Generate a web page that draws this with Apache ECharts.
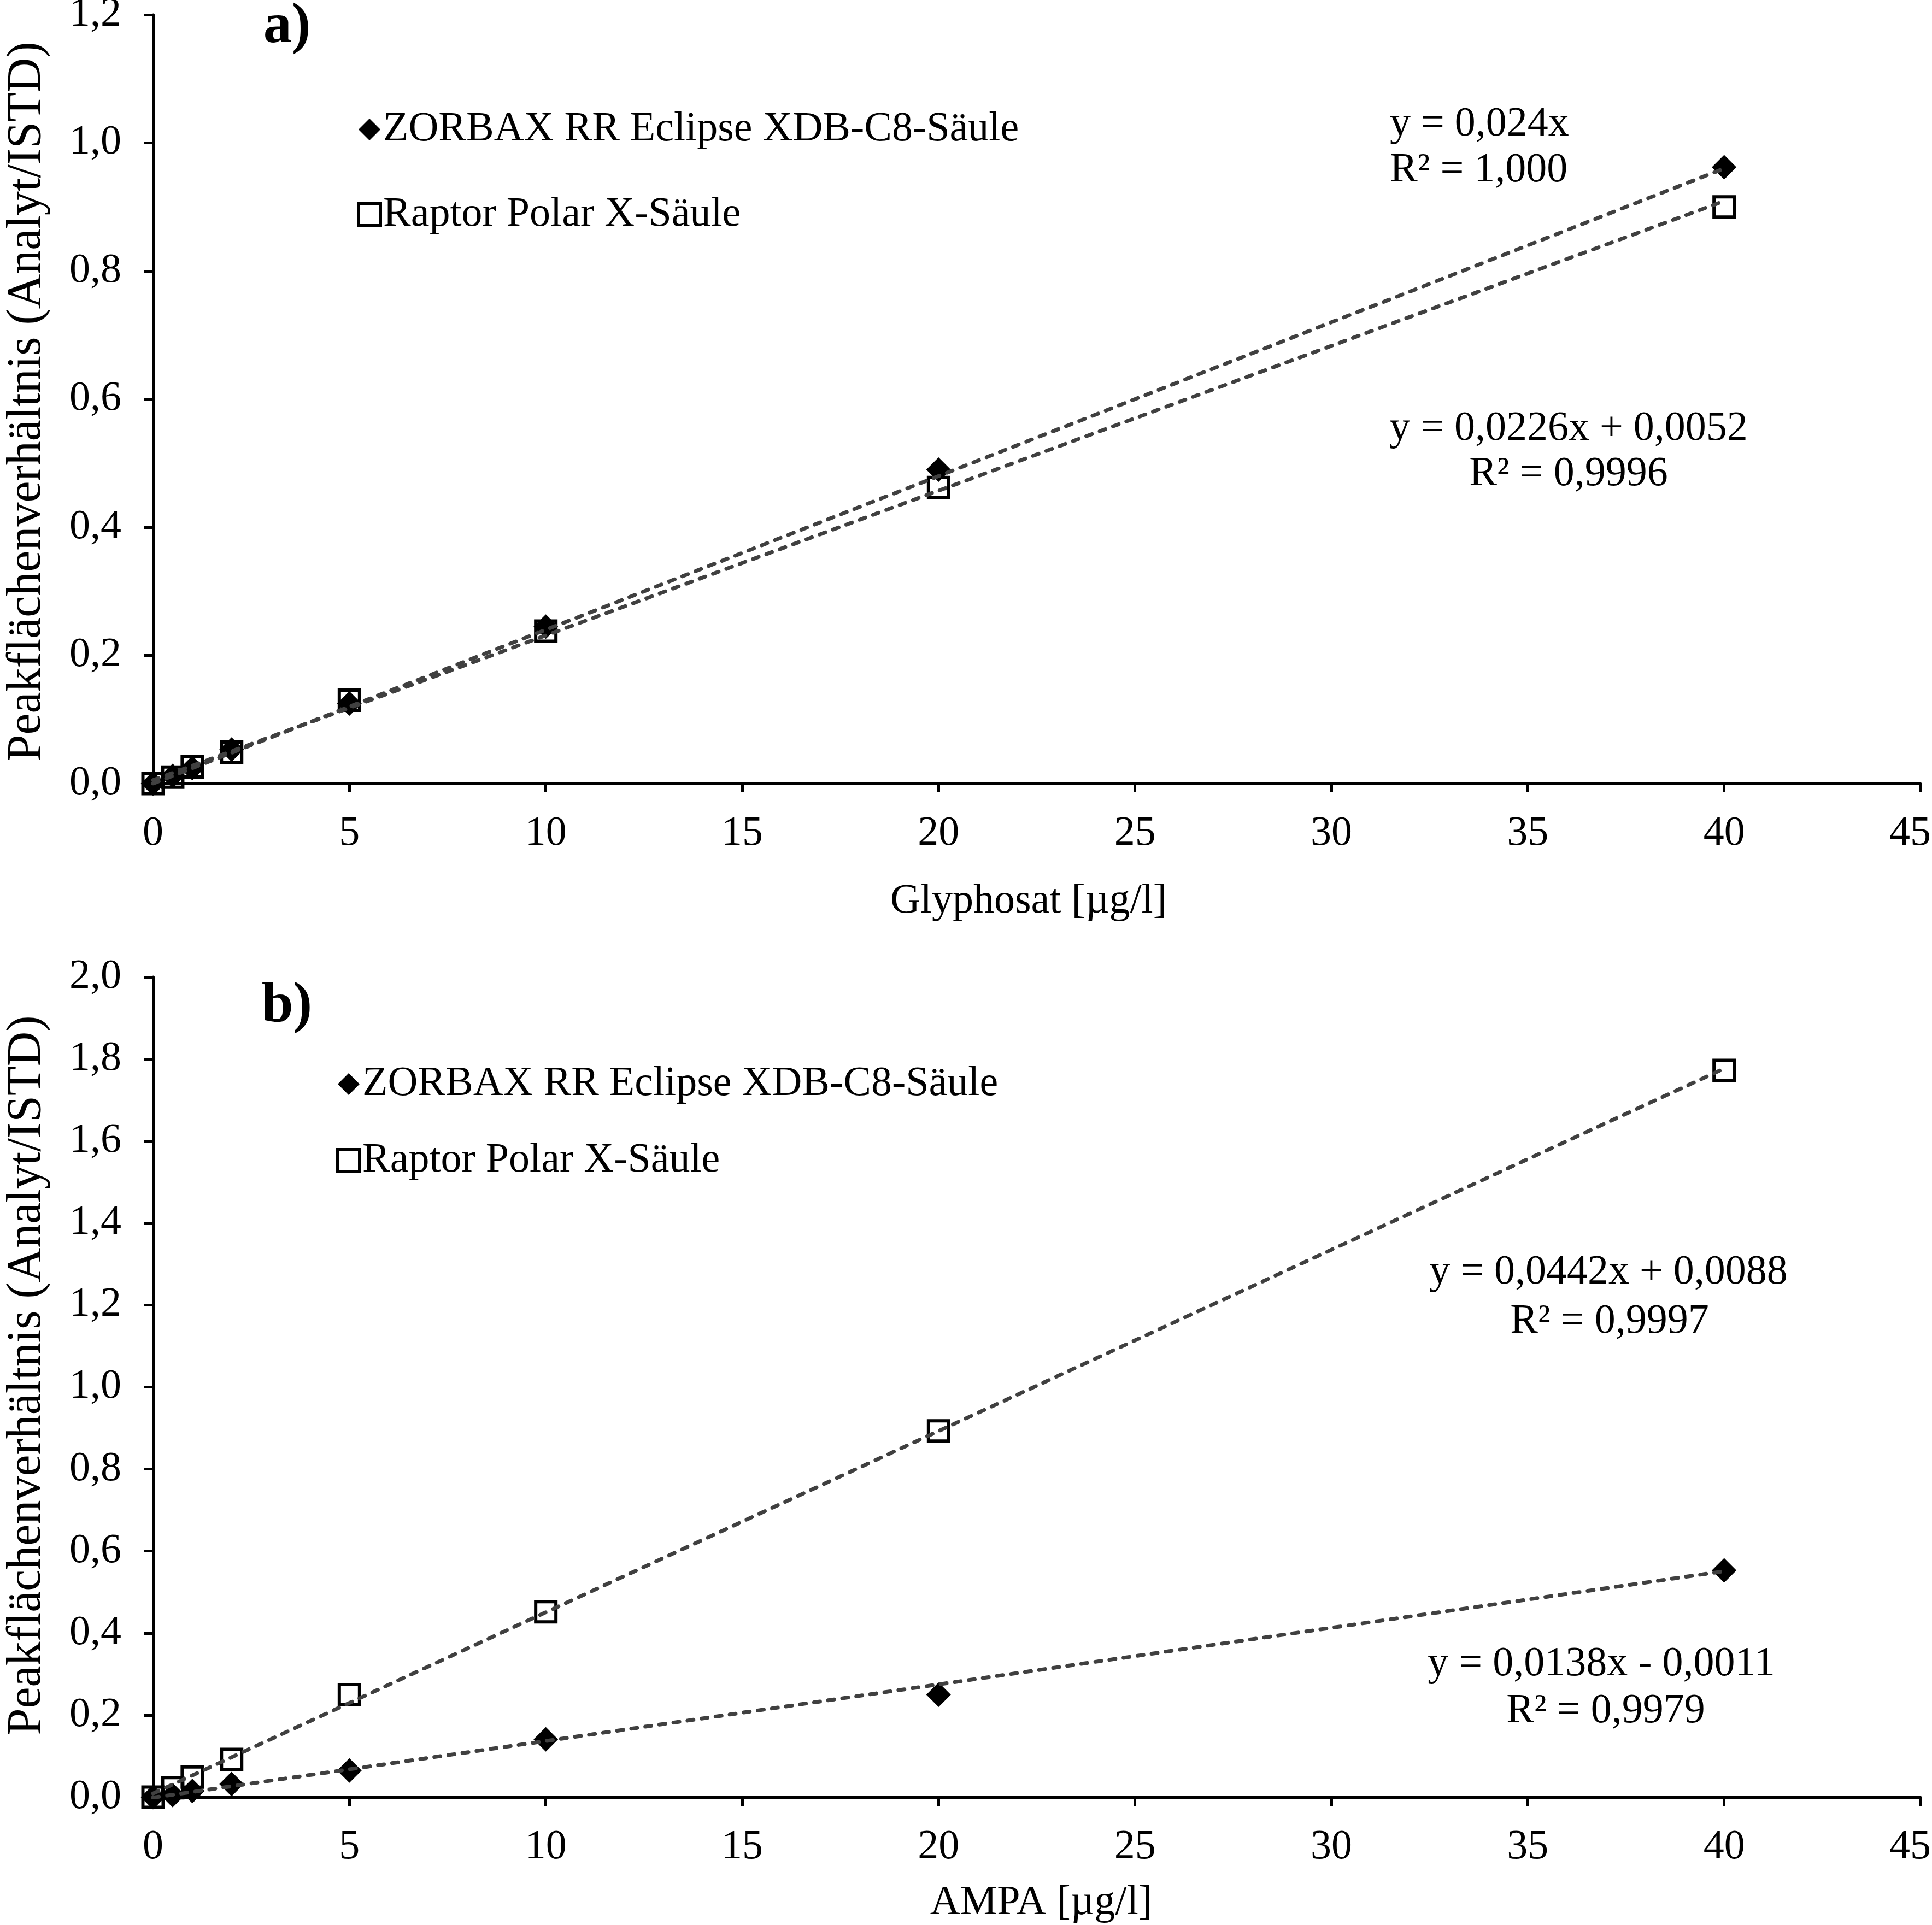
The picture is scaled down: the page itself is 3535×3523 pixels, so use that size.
<!DOCTYPE html>
<html>
<head>
<meta charset="utf-8">
<script src="https://cdn.jsdelivr.net/npm/echarts@6/dist/echarts.min.js"></script>
<style>
html,body{margin:0;padding:0;background:#fff;}
#chart{width:3535px;height:3523px;}
</style>
</head>
<body>
<div id="chart"></div>
<script>
// ---- data ----
const NAME_Z = 'ZORBAX RR Eclipse XDB-C8-Säule';
const NAME_R = 'Raptor Polar X-Säule';

const concentrations = [0, 0.5, 1, 2, 5, 10, 20, 40];

// a) Glyphosat
const glyZorbax = [0, 0.012, 0.024, 0.053, 0.125, 0.245, 0.490, 0.962];
const glyRaptor = [0, 0.010, 0.026, 0.049, 0.130, 0.238, 0.462, 0.900];
// b) AMPA
const ampaZorbax = [0, 0.005, 0.015, 0.032, 0.065, 0.141, 0.250, 0.553];
const ampaRaptor = [0, 0.023, 0.049, 0.092, 0.250, 0.452, 0.893, 1.772];

// trendline end points (from the printed regression equations)
const trendGlyZorbax = [[0, 0], [40, 0.960]];
const trendGlyRaptor = [[0, 0.0052], [40, 0.9092]];
const trendAmpaRaptor = [[0, 0.0088], [40, 1.7768]];
const trendAmpaZorbax = [[0, -0.0011], [40, 0.5509]];

const xTicksMax = 45, xTickStep = 5;
const yMaxA = 1.2, yMaxB = 2.0, yTickStep = 0.2;

const eqTexts = {
  aZ1: 'y = 0,024x', aZ2: 'R² = 1,000',
  aR1: 'y = 0,0226x + 0,0052', aR2: 'R² = 0,9996',
  bR1: 'y = 0,0442x + 0,0088', bR2: 'R² = 0,9997',
  bZ1: 'y = 0,0138x - 0,0011', bZ2: 'R² = 0,9979'
};
const panelLabels = ['a)', 'b)'];
const xTitles = ['Glyphosat [µg/l]', 'AMPA [µg/l]'];
const yTitle = 'Peakflächenverhältnis (Analyt/ISTD)';

// ---- chart ----
const FONT = '"Liberation Serif", "Times New Roman", serif';
const FS = 76;
const pair = (xs, ys) => xs.map((x, i) => [x, ys[i]]);

function xAxisCfg(gi) {
  return {
    gridIndex: gi, type: 'value', min: 0, max: xTicksMax, interval: xTickStep,
    axisLine: { show: true, onZero: false, lineStyle: { color: '#000', width: 5 } },
    axisTick: { show: true, inside: false, length: 16, lineStyle: { color: '#000', width: 5 } },
    axisLabel: { color: '#000', fontFamily: FONT, fontSize: FS, margin: 54,
      formatter: v => (v === xTicksMax ? '{last|' + v + '}' : String(v)),
      rich: { last: { fontFamily: FONT, fontSize: FS, color: '#000', padding: [0, 38, 0, 0] } } },
    splitLine: { show: false }
  };
}
function yAxisCfg(gi, max) {
  return {
    gridIndex: gi, type: 'value', min: 0, max: max, interval: yTickStep,
    axisLine: { show: true, onZero: false, lineStyle: { color: '#000', width: 5 } },
    axisTick: { show: true, inside: false, length: 16, lineStyle: { color: '#000', width: 5 } },
    axisLabel: { color: '#000', fontFamily: FONT, fontSize: FS, margin: 58,
      formatter: v => v.toFixed(1).replace('.', ',') },
    splitLine: { show: false }
  };
}
const diamondStyle = { color: '#000', opacity: 1 };
const squareStyle = { color: 'rgba(0,0,0,0)', borderColor: '#000', borderWidth: 6, opacity: 1 };

function scatter(name, xi, data, isDiamond) {
  return {
    name: name, type: 'scatter', xAxisIndex: xi, yAxisIndex: xi,
    data: data, symbol: isDiamond ? 'diamond' : 'rect',
    symbolSize: isDiamond ? 45 : 37,
    itemStyle: isDiamond ? diamondStyle : squareStyle,
    silent: true
  };
}
function trend(name, xi, data) {
  return {
    name: name, type: 'line', xAxisIndex: xi, yAxisIndex: xi, data: data,
    symbol: 'none', silent: true, clip: true,
    lineStyle: { color: '#404040', width: 7, type: [11, 15], cap: 'round' }
  };
}
function txt(text, x, y, align, opts, fs) {
  return Object.assign({
    type: 'text', x: x, y: y, silent: true,
    style: { text: text, fill: '#000', fontFamily: FONT, fontSize: fs || FS,
      align: align || 'left', verticalAlign: 'middle' }
  }, opts || {});
}
const legendText = { color: '#000', fontFamily: FONT, fontSize: FS, lineHeight: 80 };
const legendData = [
  { name: NAME_Z, icon: 'diamond', itemStyle: { color: '#000', borderWidth: 0, opacity: 1 } },
  { name: NAME_R, icon: 'rect', itemStyle: { color: 'rgba(0,0,0,0)', borderColor: '#000', borderWidth: 6, opacity: 1 } }
];

const chart = echarts.init(document.getElementById('chart'), null, { renderer: 'canvas' });
chart.setOption({
  animation: false,
  backgroundColor: '#fff',
  grid: [
    { left: 280, top: 27, width: 3234, height: 1407, outerBoundsMode: 'none', containLabel: false },
    { left: 280, top: 1788, width: 3234, height: 1501, outerBoundsMode: 'none', containLabel: false }
  ],
  xAxis: [xAxisCfg(0), xAxisCfg(1)],
  yAxis: [yAxisCfg(0, yMaxA), yAxisCfg(1, yMaxB)],
  legend: [
    { orient: 'vertical', left: 648, top: 192, itemWidth: 40, itemHeight: 40, itemGap: 76,
      selectedMode: false, textStyle: legendText, data: legendData },
    { orient: 'vertical', left: 610, top: 1939, itemWidth: 40, itemHeight: 40, itemGap: 60,
      selectedMode: false, textStyle: legendText, data: legendData }
  ],
  series: [
    scatter(NAME_Z, 0, pair(concentrations, glyZorbax), true),
    scatter(NAME_R, 0, pair(concentrations, glyRaptor), false),
    scatter(NAME_Z, 1, pair(concentrations, ampaZorbax), true),
    scatter(NAME_R, 1, pair(concentrations, ampaRaptor), false),
    trend('trend a Z', 0, trendGlyZorbax),
    trend('trend a R', 0, trendGlyRaptor),
    trend('trend b R', 1, trendAmpaRaptor),
    trend('trend b Z', 1, trendAmpaZorbax)
  ],
  graphic: [
    txt(panelLabels[0], 525, 50, 'center', { style: { text: panelLabels[0], fill: '#000', fontFamily: FONT, fontSize: 104, fontWeight: 'bold', align: 'center', verticalAlign: 'middle' } }),
    txt(panelLabels[1], 525, 1842, 'center', { style: { text: panelLabels[1], fill: '#000', fontFamily: FONT, fontSize: 104, fontWeight: 'bold', align: 'center', verticalAlign: 'middle' } }),
    txt(eqTexts.aZ1, 2543, 228, 'left'),
    txt(eqTexts.aZ2, 2543, 312, 'left'),
    txt(eqTexts.aR1, 2870, 785, 'center'),
    txt(eqTexts.aR2, 2870, 868, 'center'),
    txt(eqTexts.bR1, 2943, 2329, 'center'),
    txt(eqTexts.bR2, 2945, 2419, 'center'),
    txt(eqTexts.bZ1, 2930, 3046, 'center'),
    txt(eqTexts.bZ2, 2938, 3132, 'center'),
    txt(xTitles[0], 1882, 1650, 'center'),
    txt(xTitles[1], 1905, 3483, 'center'),
    txt(yTitle, 50, 735, 'center', { rotation: Math.PI / 2 }, 88),
    txt(yTitle, 50, 2517, 'center', { rotation: Math.PI / 2 }, 88)
  ]
});
</script>
</body>
</html>
